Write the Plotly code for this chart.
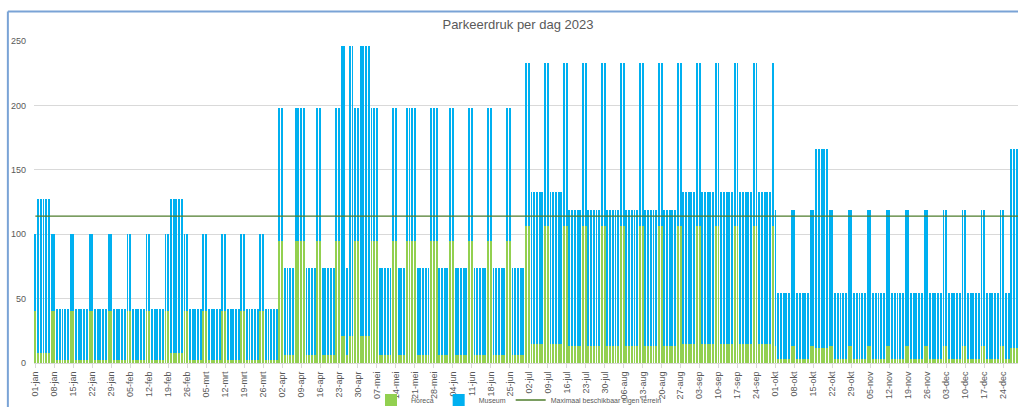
import pandas as pd
import plotly.graph_objects as go

TITLE = "Parkeerdruk per dag 2023"
MONTHS_NL = ["jan", "feb", "mrt", "apr", "mei", "jun",
             "jul", "aug", "sep", "okt", "nov", "dec"]
DATES = pd.date_range("2023-01-01", "2023-12-31", freq="D")
DAY_LABELS = [f"{d.day:02d}-{MONTHS_NL[d.month - 1]}" for d in DATES]
TICK_LABELS = DAY_LABELS[::7]

# Daily values, one row per week (Sunday .. Saturday)
HORECA_WEEKS = [
    [40, 8, 8, 8, 8, 8, 40],          # 01-jan
    [40, 2, 2, 2, 2, 2, 40],          # 08-jan
    [40, 2, 2, 2, 2, 2, 40],          # 15-jan
    [40, 2, 2, 2, 2, 2, 40],          # 22-jan
    [40, 2, 2, 2, 2, 2, 40],          # 29-jan
    [40, 2, 2, 2, 2, 2, 40],          # 05-feb
    [40, 2, 2, 2, 2, 2, 40],          # 12-feb
    [40, 8, 8, 8, 8, 8, 40],          # 19-feb
    [40, 2, 2, 2, 2, 2, 40],          # 26-feb
    [40, 2, 2, 2, 2, 2, 40],          # 05-mrt
    [40, 2, 2, 2, 2, 2, 40],          # 12-mrt
    [40, 2, 2, 2, 2, 2, 40],          # 19-mrt
    [40, 2, 2, 2, 2, 2, 95],          # 26-mrt
    [95, 6, 6, 6, 6, 95, 95],         # 02-apr
    [95, 95, 6, 6, 6, 6, 95],         # 09-apr
    [95, 6, 6, 6, 6, 6, 95],          # 16-apr
    [95, 21, 21, 6, 21, 21, 95],      # 23-apr
    [95, 21, 21, 21, 21, 95, 95],     # 30-apr
    [95, 6, 6, 6, 6, 6, 95],          # 07-mei
    [95, 6, 6, 6, 95, 95, 95],        # 14-mei
    [95, 6, 6, 6, 6, 6, 95],          # 21-mei
    [95, 95, 6, 6, 6, 6, 95],         # 28-mei
    [95, 6, 6, 6, 6, 6, 95],          # 04-jun
    [95, 6, 6, 6, 6, 6, 95],          # 11-jun
    [95, 6, 6, 6, 6, 6, 95],          # 18-jun
    [95, 6, 6, 6, 6, 6, 106],         # 25-jun
    [106, 15, 15, 15, 15, 15, 106],   # 02-jul
    [106, 15, 15, 15, 15, 15, 106],   # 09-jul
    [106, 13, 13, 13, 13, 13, 106],   # 16-jul
    [106, 13, 13, 13, 13, 13, 106],   # 23-jul
    [106, 13, 13, 13, 13, 13, 106],   # 30-jul
    [106, 13, 13, 13, 13, 13, 106],   # 06-aug
    [106, 13, 13, 13, 13, 13, 106],   # 13-aug
    [106, 13, 13, 13, 13, 13, 106],   # 20-aug
    [106, 15, 15, 15, 15, 15, 106],   # 27-aug
    [106, 15, 15, 15, 15, 15, 106],   # 03-sep
    [106, 15, 15, 15, 15, 15, 106],   # 10-sep
    [106, 15, 15, 15, 15, 15, 106],   # 17-sep
    [106, 15, 15, 15, 15, 15, 106],   # 24-sep
    [13, 3, 3, 3, 3, 3, 13],          # 01-okt
    [13, 3, 3, 3, 3, 3, 13],          # 08-okt
    [13, 12, 12, 12, 12, 12, 13],     # 15-okt
    [13, 3, 3, 3, 3, 3, 13],          # 22-okt
    [13, 3, 3, 3, 3, 3, 13],          # 29-okt
    [13, 3, 3, 3, 3, 3, 13],          # 05-nov
    [13, 3, 3, 3, 3, 3, 13],          # 12-nov
    [13, 3, 3, 3, 3, 3, 13],          # 19-nov
    [13, 3, 3, 3, 3, 3, 13],          # 26-nov
    [13, 3, 3, 3, 3, 3, 13],          # 03-dec
    [13, 3, 3, 3, 3, 3, 13],          # 10-dec
    [13, 3, 3, 3, 3, 3, 13],          # 17-dec
    [13, 3, 3, 12, 12, 12, 12],       # 24-dec
    [12],                             # 31-dec
]

MUSEUM_WEEKS = [
    [60, 119, 119, 119, 119, 119, 60],      # 01-jan
    [60, 40, 40, 40, 40, 40, 60],           # 08-jan
    [60, 40, 40, 40, 40, 40, 60],           # 15-jan
    [60, 40, 40, 40, 40, 40, 60],           # 22-jan
    [60, 40, 40, 40, 40, 40, 60],           # 29-jan
    [60, 40, 40, 40, 40, 40, 60],           # 05-feb
    [60, 40, 40, 40, 40, 40, 60],           # 12-feb
    [60, 119, 119, 119, 119, 119, 60],      # 19-feb
    [60, 40, 40, 40, 40, 40, 60],           # 26-feb
    [60, 40, 40, 40, 40, 40, 60],           # 05-mrt
    [60, 40, 40, 40, 40, 40, 60],           # 12-mrt
    [60, 40, 40, 40, 40, 40, 60],           # 19-mrt
    [60, 40, 40, 40, 40, 40, 103],          # 26-mrt
    [103, 68, 68, 68, 68, 103, 103],        # 02-apr
    [103, 103, 68, 68, 68, 68, 103],        # 09-apr
    [103, 68, 68, 68, 68, 68, 103],         # 16-apr
    [103, 225, 225, 68, 225, 225, 103],     # 23-apr
    [103, 225, 225, 225, 225, 103, 103],    # 30-apr
    [103, 68, 68, 68, 68, 68, 103],         # 07-mei
    [103, 68, 68, 68, 103, 103, 103],       # 14-mei
    [103, 68, 68, 68, 68, 68, 103],         # 21-mei
    [103, 103, 68, 68, 68, 68, 103],        # 28-mei
    [103, 68, 68, 68, 68, 68, 103],         # 04-jun
    [103, 68, 68, 68, 68, 68, 103],         # 11-jun
    [103, 68, 68, 68, 68, 68, 103],         # 18-jun
    [103, 68, 68, 68, 68, 68, 127],         # 25-jun
    [127, 118, 118, 118, 118, 118, 127],    # 02-jul
    [127, 118, 118, 118, 118, 118, 127],    # 09-jul
    [127, 106, 106, 106, 106, 106, 127],    # 16-jul
    [127, 106, 106, 106, 106, 106, 127],    # 23-jul
    [127, 106, 106, 106, 106, 106, 127],    # 30-jul
    [127, 106, 106, 106, 106, 106, 127],    # 06-aug
    [127, 106, 106, 106, 106, 106, 127],    # 13-aug
    [127, 106, 106, 106, 106, 106, 127],    # 20-aug
    [127, 118, 118, 118, 118, 118, 127],    # 27-aug
    [127, 118, 118, 118, 118, 118, 127],    # 03-sep
    [127, 118, 118, 118, 118, 118, 127],    # 10-sep
    [127, 118, 118, 118, 118, 118, 127],    # 17-sep
    [127, 118, 118, 118, 118, 118, 127],    # 24-sep
    [106, 51, 51, 51, 51, 51, 106],         # 01-okt
    [106, 51, 51, 51, 51, 51, 106],         # 08-okt
    [106, 154, 154, 154, 154, 154, 106],    # 15-okt
    [106, 51, 51, 51, 51, 51, 106],         # 22-okt
    [106, 51, 51, 51, 51, 51, 106],         # 29-okt
    [106, 51, 51, 51, 51, 51, 106],         # 05-nov
    [106, 51, 51, 51, 51, 51, 106],         # 12-nov
    [106, 51, 51, 51, 51, 51, 106],         # 19-nov
    [106, 51, 51, 51, 51, 51, 106],         # 26-nov
    [106, 51, 51, 51, 51, 51, 106],         # 03-dec
    [106, 51, 51, 51, 51, 51, 106],         # 10-dec
    [106, 51, 51, 51, 51, 51, 106],         # 17-dec
    [106, 51, 51, 154, 154, 154, 154],      # 24-dec
    [154],                                  # 31-dec
]

MAX_EIGEN_TERREIN = 114

SERIES_NAMES = ["Horeca", "Museum", "Maximaal beschikbaar eigen terrein"]
COLORS = {"Horeca": "#92D050", "Museum": "#00B0F0",
          "Maximaal beschikbaar eigen terrein": "#4E7D2C"}
TEXT_COLOR = "#595959"
GRID_COLOR = "#D9D9D9"
FONT = "Liberation Sans"

horeca = [v for week in HORECA_WEEKS for v in week]
museum = [v for week in MUSEUM_WEEKS for v in week]
max_line = [MAX_EIGEN_TERREIN for _ in DAY_LABELS]

W, H = 1018, 407
PLOT_LEFT, PLOT_TOP, PLOT_BOTTOM = 33.64, 41.0, 362.7
DAY_PX = 2.712
x_end = -0.5 + (W - PLOT_LEFT) / DAY_PX

fig = go.Figure()
fig.add_trace(go.Bar(name=SERIES_NAMES[0], x=DAY_LABELS, y=horeca,
                     marker=dict(color=COLORS["Horeca"], line=dict(width=0))))
fig.add_trace(go.Bar(name=SERIES_NAMES[1], x=DAY_LABELS, y=museum,
                     marker=dict(color=COLORS["Museum"], line=dict(width=0))))
fig.add_trace(go.Scatter(name=SERIES_NAMES[2], x=DAY_LABELS, y=max_line,
                         mode="lines",
                         line=dict(color=COLORS[SERIES_NAMES[2]], width=1.3)))

plot_w = W - PLOT_LEFT
plot_h = PLOT_BOTTOM - PLOT_TOP


def px_to_paper_x(px):
    return (px - PLOT_LEFT) / plot_w


def px_to_paper_y(py):
    return (PLOT_BOTTOM - py) / plot_h


frame_color = "#7AA3D6"
shapes = [
    dict(type="line", xref="paper", yref="paper",
         x0=px_to_paper_x(7.5), x1=px_to_paper_x(7.5),
         y0=px_to_paper_y(11.5), y1=px_to_paper_y(420),
         line=dict(color=frame_color, width=2)),
    dict(type="line", xref="paper", yref="paper",
         x0=px_to_paper_x(7.5), x1=px_to_paper_x(1030),
         y0=px_to_paper_y(11.5), y1=px_to_paper_y(11.5),
         line=dict(color=frame_color, width=2)),
]

fig.update_layout(
    width=W, height=H,
    barmode="stack", bargap=0.3,
    paper_bgcolor="white", plot_bgcolor="white",
    margin=dict(l=PLOT_LEFT, r=0, t=PLOT_TOP, b=H - PLOT_BOTTOM, pad=0),
    font=dict(family=FONT, color=TEXT_COLOR),
    title=dict(text=TITLE, x=518 / W, xanchor="center", xref="container",
               y=1 - 24 / H, yanchor="middle", yref="container",
               font=dict(size=13, color=TEXT_COLOR, family=FONT)),
    showlegend=True,
    legend=dict(orientation="h", xref="container", yref="container",
                x=519 / W, xanchor="center", y=1 - 400 / H, yanchor="middle",
                traceorder="normal",
                font=dict(size=7, color=TEXT_COLOR, family=FONT),
                itemwidth=30, tracegroupgap=0, bgcolor="rgba(0,0,0,0)"),
    xaxis=dict(type="category", range=[-0.5, x_end],
               tickmode="array", tickvals=TICK_LABELS, ticktext=TICK_LABELS,
               tickangle=-90, tickfont=dict(size=9, color=TEXT_COLOR),
               showgrid=False, showline=True, linecolor=GRID_COLOR,
               linewidth=1, ticks="outside", ticklen=4, tickcolor=GRID_COLOR,
               automargin=False, zeroline=False),
    yaxis=dict(range=[0, 250], tickmode="array",
               tickvals=[0, 50, 100, 150, 200, 250],
               tickfont=dict(size=9, color=TEXT_COLOR),
               showgrid=True, gridcolor=GRID_COLOR, gridwidth=1,
               zeroline=False, showline=False, ticks="",
               ticklabelstandoff=7, automargin=False),
    shapes=shapes,
    hovermode=False,
)

fig.write_html(
    "out.html",
    config={"staticPlot": True, "displayModeBar": False},
    post_script="document.body.style.margin='0';"
                "document.body.style.overflow='hidden';",
)
